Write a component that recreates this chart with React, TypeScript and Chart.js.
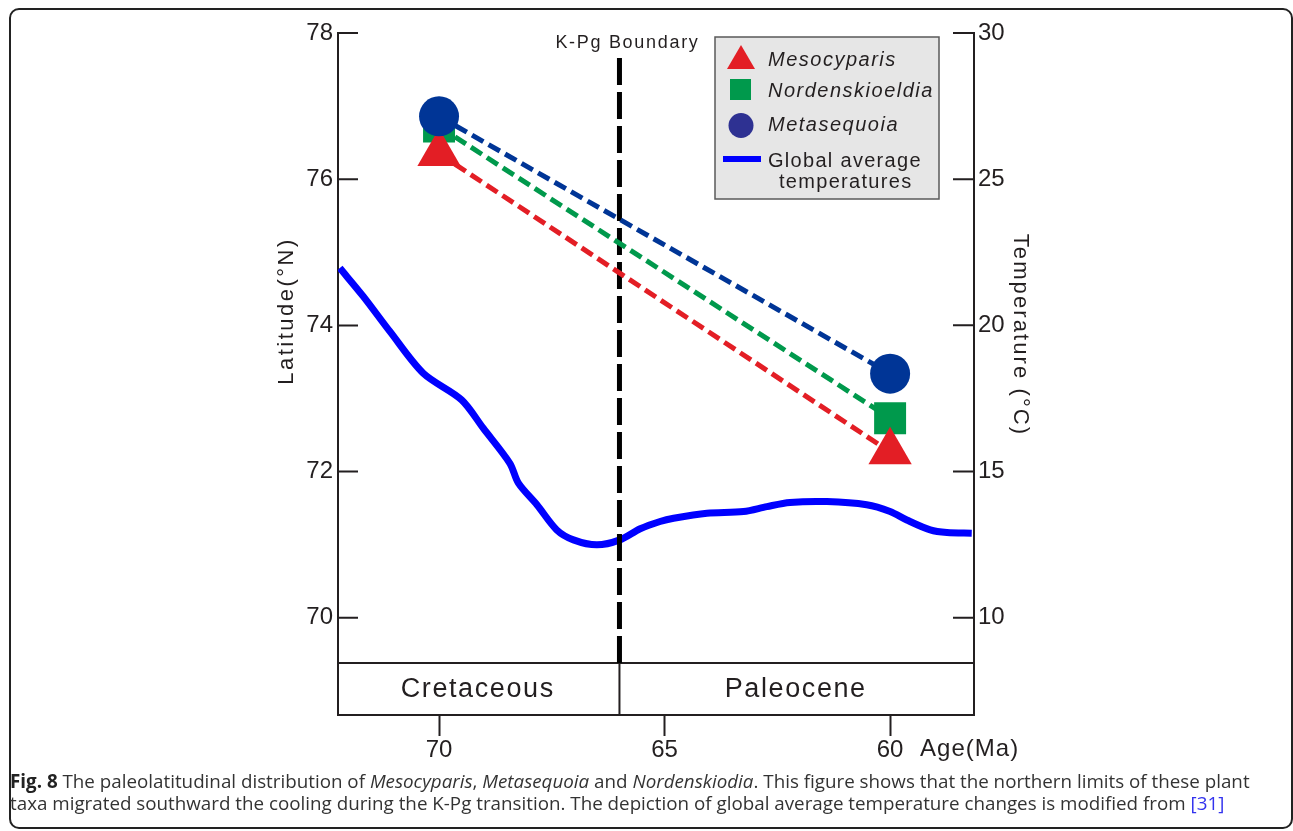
import React, { useEffect, useRef } from "react";
import { Chart, registerables } from "chart.js";

Chart.register(...registerables);

// ---------- data ----------
const AGE_MIN = 58.14;
const AGE_MAX = 72.24;
const LAT_MIN = 68.67;
const LAT_MAX = 78;
const TEMP_MIN = 6.67;
const TEMP_MAX = 30;

const AGE_TICKS = [70, 65, 60];
const LAT_TICKS = [70, 72, 74, 76, 78];
const TEMP_TICKS = [10, 15, 20, 25, 30];

const KPG_BOUNDARY = 66;
const PERIOD_NAMES = ["Cretaceous", "Paleocene"];
const PERIOD_FROM = [AGE_MAX, KPG_BOUNDARY];
const PERIOD_TO = [KPG_BOUNDARY, AGE_MIN];

const TAXA_AGES = [70, 60];
const MESOCYPARIS_LAT = [76.35, 72.27];
const NORDENSKIOELDIA_LAT = [76.72, 72.73];
const METASEQUOIA_LAT = [76.86, 73.34];

const TEMP_AGES = [
  72.2, 71.68, 71.09, 70.35, 69.5, 69.02, 68.43, 68.24, 67.83, 67.39, 67.02,
  66.5, 65.99, 65.54, 65.1, 64.8, 64.06, 63.25, 62.73, 62.22, 61.4, 60.52, 60.0,
  59.63, 59.11, 58.74, 58.19,
];
const TEMP_VALUES = [
  21.96, 20.99, 19.79, 18.36, 17.45, 16.48, 15.28, 14.6, 13.86, 13.0, 12.66,
  12.49, 12.66, 13.04, 13.29, 13.4, 13.57, 13.63, 13.8, 13.94, 13.97, 13.86,
  13.63, 13.34, 13.0, 12.91, 12.89,
];

// ---------- styles ----------
const INK = "#231f20";
const RED = "#e31e25";
const GREEN = "#00994c";
const NAVY = "#003596";
const LEGEND_NAVY = "#2e3192";
const BLUE = "#0000ff";
const FONT = "'Liberation Sans', Arial, Helvetica, sans-serif";
const TEMP_INDEX = 3;

const decorPlugin = {
  id: "decor",
  afterDatasetDraw(chart: any, args: any) {
    if (args.index !== TEMP_INDEX) return;
    const { ctx, chartArea } = chart;
    const x = chart.scales.x.getPixelForValue(KPG_BOUNDARY);
    const bandTop = chartArea.bottom - 52;
    ctx.save();
    ctx.strokeStyle = "#000";
    ctx.lineWidth = 5;
    ctx.setLineDash([27, 7]);
    ctx.beginPath();
    ctx.moveTo(x, chartArea.top + 25);
    ctx.lineTo(x, bandTop);
    ctx.stroke();
    ctx.restore();
  },
  beforeDatasetsDraw(chart: any) {
    const { ctx, chartArea } = chart;
    const xs = chart.scales.x;
    const bandTop = chartArea.bottom - 52;
    const bx = xs.getPixelForValue(KPG_BOUNDARY);
    ctx.save();
    ctx.strokeStyle = INK;
    ctx.lineWidth = 2;
    ctx.beginPath();
    ctx.moveTo(chartArea.left, bandTop);
    ctx.lineTo(chartArea.right, bandTop);
    ctx.moveTo(bx, bandTop);
    ctx.lineTo(bx, chartArea.bottom);
    ctx.stroke();
    ctx.fillStyle = INK;
    ctx.font = `27px ${FONT}`;
    (ctx as any).letterSpacing = "1.6px";
    ctx.textAlign = "center";
    ctx.textBaseline = "middle";
    PERIOD_NAMES.forEach((name, i) => {
      const a = Math.max(chartArea.left, Math.min(chartArea.right, xs.getPixelForValue(PERIOD_FROM[i])));
      const b = Math.max(chartArea.left, Math.min(chartArea.right, xs.getPixelForValue(PERIOD_TO[i])));
      ctx.fillText(name, (a + b) / 2 - 1, (bandTop + chartArea.bottom) / 2 + 1);
    });
    ctx.restore();
  },
  afterDraw(chart: any) {
    const { ctx, chartArea } = chart;
    const xs = chart.scales.x;
    const ys = chart.scales.y;
    const ys2 = chart.scales.y2;
    ctx.save();
    ctx.strokeStyle = INK;
    ctx.lineWidth = 2;
    // inward ticks on y axes
    ctx.beginPath();
    LAT_TICKS.forEach((v) => {
      const y = ys.getPixelForValue(v);
      ctx.moveTo(chartArea.left, y);
      ctx.lineTo(chartArea.left + 20, y);
    });
    TEMP_TICKS.forEach((v) => {
      const y = ys2.getPixelForValue(v);
      ctx.moveTo(chartArea.right, y);
      ctx.lineTo(chartArea.right - 21, y);
    });
    ctx.stroke();

    ctx.fillStyle = INK;
    // axis titles
    ctx.font = `22px ${FONT}`;
    ctx.textAlign = "center";
    ctx.textBaseline = "middle";
    ctx.save();
    (ctx as any).letterSpacing = "2.5px";
    ctx.translate(chartArea.left - 51, chartArea.top + 278);
    ctx.rotate(-Math.PI / 2);
    ctx.fillText("Latitude(°N)", 0, 0);
    ctx.restore();
    ctx.save();
    (ctx as any).letterSpacing = "2.1px";
    ctx.translate(chartArea.right + 46, chartArea.top + 302);
    ctx.rotate(Math.PI / 2);
    ctx.fillText("Temperature (°C)", 0, 0);
    ctx.restore();

    // Age(Ma)
    ctx.font = `24px ${FONT}`;
    (ctx as any).letterSpacing = "1px";
    ctx.textAlign = "left";
    ctx.fillText("Age(Ma)", xs.getPixelForValue(AGE_TICKS[2]) + 30, chartArea.bottom + 34);

    // K-Pg label
    ctx.font = `18px ${FONT}`;
    (ctx as any).letterSpacing = "1.7px";
    ctx.textAlign = "center";
    ctx.fillText("K-Pg Boundary", xs.getPixelForValue(KPG_BOUNDARY) + 8, chartArea.top + 10);

    // legend
    const L = chartArea.right - 259;
    const T = chartArea.top + 4;
    ctx.fillStyle = "#e6e6e6";
    ctx.fillRect(L, T, 224, 162);
    ctx.strokeStyle = "#5a5a5a";
    ctx.lineWidth = 1.5;
    ctx.strokeRect(L, T, 224, 162);
    const ds = chart.data.datasets;
    const mx = L + 26;
    // triangle
    ctx.fillStyle = RED;
    ctx.beginPath();
    ctx.moveTo(mx, T + 8);
    ctx.lineTo(mx + 14, T + 32);
    ctx.lineTo(mx - 14, T + 32);
    ctx.closePath();
    ctx.fill();
    // square
    ctx.fillStyle = GREEN;
    ctx.fillRect(mx - 11, T + 42, 21, 21);
    // circle
    ctx.fillStyle = LEGEND_NAVY;
    ctx.beginPath();
    ctx.arc(mx, T + 88.5, 12.5, 0, Math.PI * 2);
    ctx.fill();
    // line
    ctx.strokeStyle = BLUE;
    ctx.lineWidth = 6;
    ctx.beginPath();
    ctx.moveTo(L + 8, T + 122);
    ctx.lineTo(L + 46, T + 122);
    ctx.stroke();

    ctx.fillStyle = INK;
    ctx.textAlign = "left";
    ctx.textBaseline = "alphabetic";
    ctx.font = `italic 20px ${FONT}`;
    (ctx as any).letterSpacing = "1.5px";
    const tx = L + 53;
    ctx.fillText(ds[1].label, tx, T + 29);
    ctx.fillText(ds[2].label, tx, T + 59.5);
    ctx.fillText(ds[0].label, tx, T + 94);
    ctx.font = `20px ${FONT}`;
    (ctx as any).letterSpacing = "1.3px";
    const words = String(ds[3].label).split(" ");
    ctx.fillText(words.slice(0, 2).join(" "), tx, T + 129.5);
    ctx.fillText(words.slice(2).join(" "), L + 64, T + 151.3);
    ctx.restore();
  },
};

function pts(xs: number[], ys: number[]) {
  return xs.map((x, i) => ({ x, y: ys[i] }));
}

export default function App() {
  const ref = useRef<HTMLCanvasElement>(null);

  useEffect(() => {
    if (!ref.current) return;
    const taxon = (label: string, lat: number[], color: string, style: string, r: number) => ({
      label,
      data: pts(TAXA_AGES, lat),
      yAxisID: "y",
      showLine: true,
      borderColor: color,
      borderWidth: 5,
      borderDash: [13, 6],
      borderCapStyle: "butt",
      pointStyle: style,
      pointRadius: r,
      pointHoverRadius: r,
      pointBackgroundColor: color,
      pointBorderColor: color,
      pointBorderWidth: 0,
      tension: 0,
    });
    const chart = new Chart(ref.current, {
      type: "line",
      data: {
        datasets: [
          taxon("Metasequoia", METASEQUOIA_LAT, NAVY, "circle", 20),
          taxon("Mesocyparis", MESOCYPARIS_LAT, RED, "triangle", 25),
          taxon("Nordenskioeldia", NORDENSKIOELDIA_LAT, GREEN, "rect", 22.6),
          {
            label: "Global average temperatures",
            data: pts(TEMP_AGES, TEMP_VALUES),
            yAxisID: "y2",
            borderColor: BLUE,
            borderWidth: 7,
            borderJoinStyle: "round",
            pointRadius: 0,
            tension: 0.3,
          },
        ] as any,
      },
      options: {
        animation: false,
        responsive: false,
        devicePixelRatio: 1,
        events: [],
        layout: { padding: { left: 274, right: 260, top: 33, bottom: 56 } },
        plugins: { legend: { display: false }, tooltip: { enabled: false } },
        scales: {
          x: {
            type: "linear",
            reverse: true,
            min: AGE_MIN,
            max: AGE_MAX,
            afterBuildTicks: (s: any) => {
              s.ticks = AGE_TICKS.map((value) => ({ value }));
            },
            afterFit: (s: any) => {
              s.height = 60;
            },
            grid: { drawOnChartArea: false, drawTicks: true, tickLength: 21, tickWidth: 2, tickColor: INK },
            border: { display: true, color: INK, width: 2 },
            ticks: { color: INK, font: { family: FONT, size: 24 }, padding: 0, maxRotation: 0 },
          },
          y: {
            type: "linear",
            position: "left",
            min: LAT_MIN,
            max: LAT_MAX,
            afterBuildTicks: (s: any) => {
              s.ticks = LAT_TICKS.map((value) => ({ value }));
            },
            afterFit: (s: any) => {
              s.width = 64;
            },
            grid: { drawOnChartArea: false, drawTicks: false },
            border: { display: true, color: INK, width: 2 },
            ticks: { color: INK, font: { family: FONT, size: 24 }, padding: 5 },
          },
          y2: {
            type: "linear",
            position: "right",
            min: TEMP_MIN,
            max: TEMP_MAX,
            afterBuildTicks: (s: any) => {
              s.ticks = TEMP_TICKS.map((value) => ({ value }));
            },
            afterFit: (s: any) => {
              s.width = 59;
            },
            grid: { drawOnChartArea: false, drawTicks: false },
            border: { display: true, color: INK, width: 2 },
            ticks: { color: INK, font: { family: FONT, size: 24 }, padding: 4 },
          },
        },
      } as any,
      plugins: [decorPlugin],
    });
    return () => chart.destroy();
  }, []);

  const cap: React.CSSProperties = {
    position: "absolute",
    left: 10,
    whiteSpace: "nowrap",
    fontFamily: "'Open Sans', sans-serif",
    fontSize: 18.8,
    lineHeight: "21.6px",
    color: "#333",
  };

  return (
    <div style={{ position: "fixed", left: 0, top: 0, width: 1293, height: 831, background: "#fff", overflow: "hidden" }}>
      <div
        style={{
          position: "absolute",
          left: 9,
          top: 8,
          width: 1284,
          height: 821,
          border: "2px solid #222",
          borderRadius: 10,
          boxSizing: "border-box",
        }}
      />
      <canvas ref={ref} width={1293} height={831} style={{ position: "absolute", left: 0, top: 0, width: 1293, height: 831 }} />
      <div style={{ ...cap, top: 771 }}>
        <b style={{ color: "#222" }}>Fig. 8</b> The paleolatitudinal distribution of <i>Mesocyparis</i>,{" "}
        <i>Metasequoia</i> and <i>Nordenskiodia</i>. This figure shows that the northern limits of these plant
      </div>
      <div style={{ ...cap, top: 792.6 }}>
        taxa migrated southward the cooling during the K-Pg transition. The depiction of global average temperature
        changes is modified from <span style={{ color: "#3333ee" }}>[31]</span>
      </div>
    </div>
  );
}
